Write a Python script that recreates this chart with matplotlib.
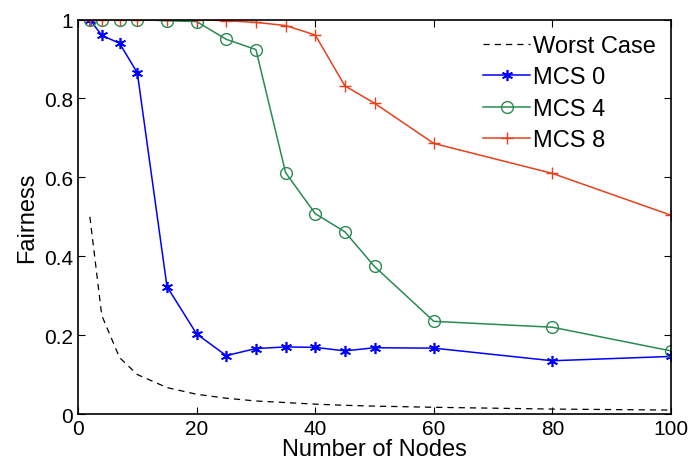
import matplotlib
matplotlib.use("Agg")
from matplotlib import pyplot as plt

plt.rcParams['font.family'] = ['Liberation Sans', 'DejaVu Sans']

nodes = [2, 4, 7, 10, 15, 20, 25, 30, 35, 40, 45, 50, 60, 80, 100]
worst = [0.5, 0.25, 0.143, 0.1, 0.067, 0.05, 0.04, 0.033, 0.029, 0.025,
         0.022, 0.02, 0.017, 0.0125, 0.01]
mcs0 = [1.0, 0.96, 0.94, 0.865, 0.323, 0.203, 0.148, 0.166, 0.17, 0.169,
        0.16, 0.168, 0.167, 0.135, 0.146]
mcs4 = [1.0, 1.0, 1.0, 1.0, 0.997, 0.995, 0.95, 0.924, 0.612, 0.508,
        0.462, 0.374, 0.235, 0.220, 0.160]
mcs8 = [1.0, 1.0, 1.0, 1.0, 1.0, 1.0, 0.997, 0.993, 0.985, 0.961,
        0.832, 0.788, 0.686, 0.61, 0.504]

fig = plt.figure(figsize=(6.93, 4.64), dpi=100)
ax = fig.add_axes([0.1126, 0.1056, 0.8557, 0.850])

ax.plot(nodes, worst, '--', color='black', lw=0.9, dashes=(5, 4), label='Worst Case')
ax.plot(nodes, mcs0, '-', marker=(6, 2, 0), color='#0000ff', lw=1.1, ms=8, mew=1.2, label='MCS 0')
ax.plot(nodes, mcs4, '-o', color='#2a8a52', lw=1.1, ms=8.5, mfc='none', mew=1.0, label='MCS 4')
ax.plot(nodes, mcs8, '-+', color='#e8401c', lw=1.1, ms=8, mew=1.0, label='MCS 8')

ax.set_xlim(0, 100)
ax.set_ylim(0, 1)
ax.set_xticks([0, 20, 40, 60, 80, 100])
ax.set_yticks([0, 0.2, 0.4, 0.6, 0.8, 1])
ax.set_yticklabels(['0', '0.2', '0.4', '0.6', '0.8', '1'])
ax.tick_params(direction='in', top=True, right=True, labelsize=15, length=5)
for s in ax.spines.values():
    s.set_linewidth(1.2)

ax.set_xlabel('Number of Nodes', fontsize=17, labelpad=0)
ax.set_ylabel('Fairness', fontsize=17, labelpad=4)

ax.legend(loc='upper right', frameon=False, fontsize=17, handlelength=2.0,
          handletextpad=0.1, labelspacing=0.4, borderaxespad=0.25)

fig.savefig('out.png', dpi=100)
